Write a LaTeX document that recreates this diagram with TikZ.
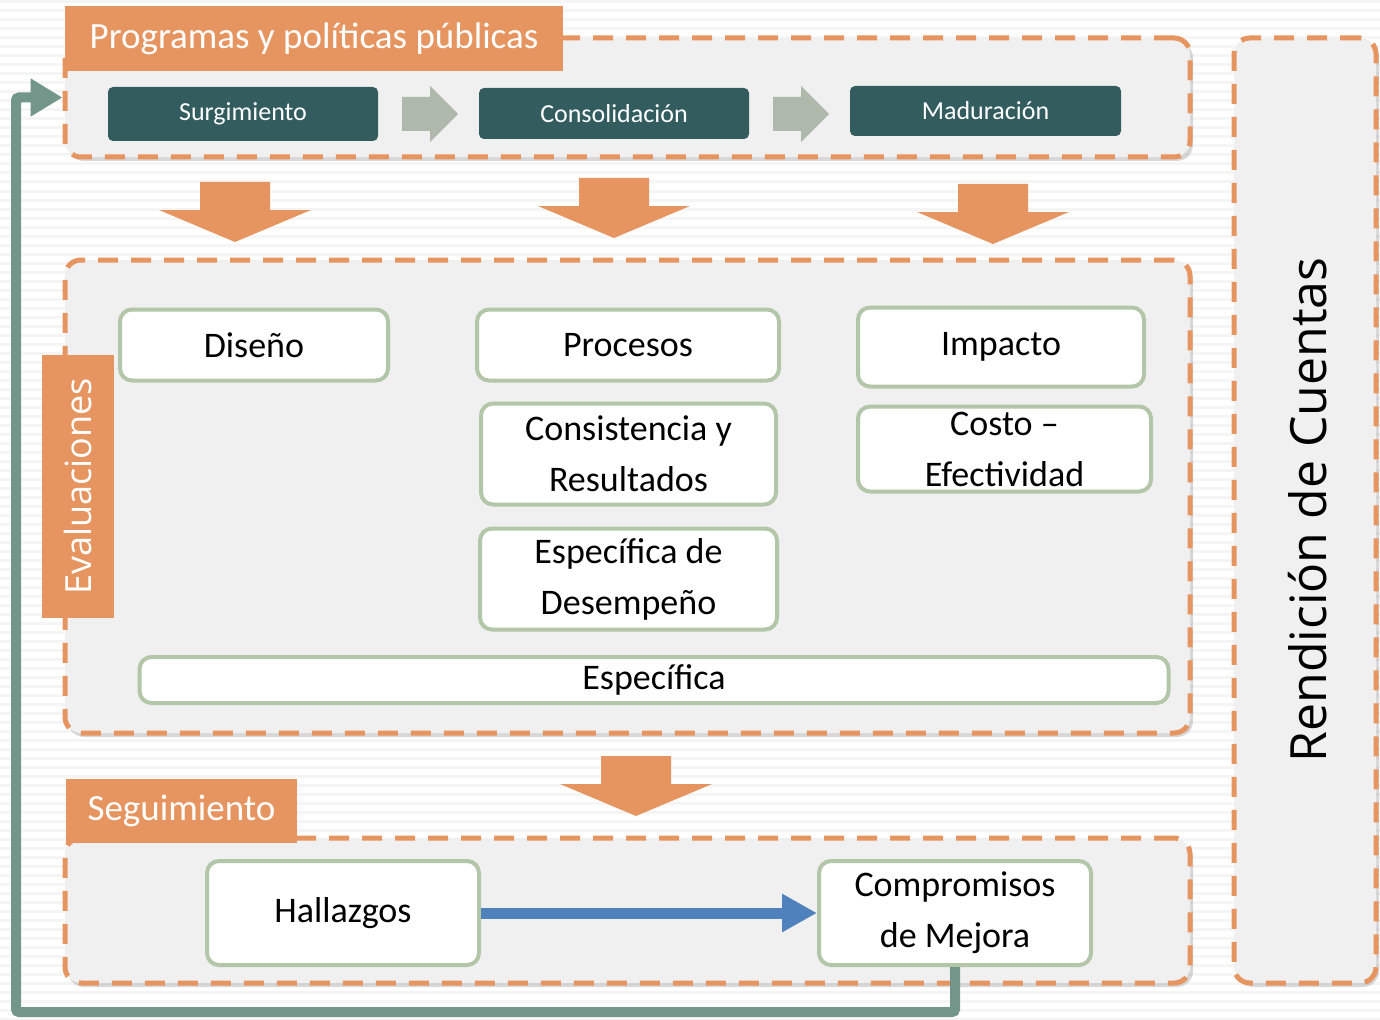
\documentclass[tikz,border=0pt]{standalone}
\usepackage{fontspec}
\setmainfont{Carlito}
\newfontfamily\sidefont{Open Sans}
\usetikzlibrary{arrows.meta,shadows}

\definecolor{tabOrange}{HTML}{E69560}
\definecolor{panelGray}{HTML}{F0F0F0}
\definecolor{phaseTeal}{HTML}{335C5F}
\definecolor{stepGray}{HTML}{AEB8AB}
\definecolor{boxGreen}{HTML}{B3C6A9}
\definecolor{linkBlue}{HTML}{4F81BD}
\definecolor{loopGreen}{HTML}{72968A}

\begin{document}
\begin{tikzpicture}[
  x=1pt, y=-1pt,
  panel/.style = {draw=tabOrange, fill=panelGray, line width=5pt, dash pattern=on 20pt off 13pt,
                  rounded corners=16pt, inner sep=0pt,
                  drop shadow={shadow xshift=3pt, shadow yshift=-4pt, opacity=0.3}},
  tab/.style = {fill=tabOrange, text=white, inner sep=0pt, font=\fontsize{37}{40}\selectfont},
  phase/.style = {fill=phaseTeal, rounded corners=5pt, text=white, font=\fontsize{26}{30}\selectfont},
  evalbox/.style = {draw=boxGreen, fill=white, line width=4pt, rounded corners=12pt, align=center,
                    inner sep=0pt, font=\fontsize{36}{51}\selectfont},
  downarr/.pic = {\fill[tabOrange] (-35,0) -- (35,0) -- (35,28) -- (76,28) -- (0,60) -- (-76,28) -- (-35,28) -- cycle;},
  rightarr/.pic = {\fill[stepGray] (0,11) -- (28,11) -- (28,0) -- (56,28) -- (28,56) -- (28,45) -- (0,45) -- cycle;}
]
  \useasboundingbox[fill=white] (0,0) rectangle (1380,1019);
  \foreach \y in {2,11,...,1019}
    \draw[black!4, line width=3pt] (0,\y) -- (1380,\y);

  % panels
  \node[panel, minimum width=1125, minimum height=119] (prog) at (627.5,97.5) {};
  \node[panel, minimum width=1125, minimum height=473] (eval) at (627.5,496.5) {};
  \node[panel, minimum width=1125, minimum height=145] (seg) at (627.5,910.5) {};
  \node[panel, minimum width=142, minimum height=945] (rend) at (1305,510.5) {};

  % tabs
  \node[tab, minimum width=498, minimum height=65] (progtab) at (314,39) {Programas y políticas públicas};
  \node[tab, minimum width=231, minimum height=64] (segtab) at (181.5,811) {Seguimiento};
  \node[tab, minimum width=263, minimum height=72, rotate=90,
        font=\sidefont\fontsize{36}{40}\selectfont] (evaltab) at (78,486.5) {Evaluaciones};
  \node[rotate=90, font=\sidefont\fontsize{50}{55}\selectfont] (rendtxt) at (1308,510) {Rendición de Cuentas};

  % phases
  \node[phase, minimum width=270, minimum height=54] (surg) at (243,114) {Surgimiento};
  \node[phase, minimum width=270, minimum height=51] (cons) at (614,113.5) {Consolidación};
  \node[phase, minimum width=271, minimum height=50] (madu) at (985.5,111) {Maduración};
  \pic (step1) at (402,86) {rightarr};
  \pic (step2) at (773,86) {rightarr};

  \pic (down1) at (235,182) {downarr};
  \pic (down2) at (614,178) {downarr};
  \pic (down3) at (993,184) {downarr};
  \pic (down4) at (636,756) {downarr};

  % evaluaciones
  \node[evalbox, minimum width=268, minimum height=71] (dis) at (254,345) {Diseño};
  \node[evalbox, minimum width=302, minimum height=71] (proc) at (628,345) {Procesos};
  \node[evalbox, minimum width=295, minimum height=101] (cyr) at (628.5,454) {Consistencia y\\Resultados};
  \node[evalbox, minimum width=297, minimum height=101] (esd) at (628.5,579) {Específica de\\Desempeño};
  \node[evalbox, minimum width=286, minimum height=79] (imp) at (1001,347) {Impacto};
  \node[evalbox, minimum width=293, minimum height=85] (cost) at (1004.5,449) {Costo –\\Efectividad};
  \node[evalbox, minimum width=1029, minimum height=46] (esp) at (654,680) {Específica};

  % seguimiento
  \node[evalbox, minimum width=272, minimum height=104] (hall) at (343,913) {Hallazgos};
  \node[evalbox, minimum width=272, minimum height=104] (comp) at (955,913) {Compromisos\\de Mejora};
  \draw[-{Triangle[length=35pt,width=36pt]}, line width=11pt, linkBlue] (hall) -- (comp);

  \coordinate (loop) at (16,1012);
  \draw[-{Triangle[length=32pt,width=36pt]}, line width=10pt, loopGreen, rounded corners=3pt]
    (comp.south) |- (loop) |- (prog.west);
\end{tikzpicture}
\end{document}
